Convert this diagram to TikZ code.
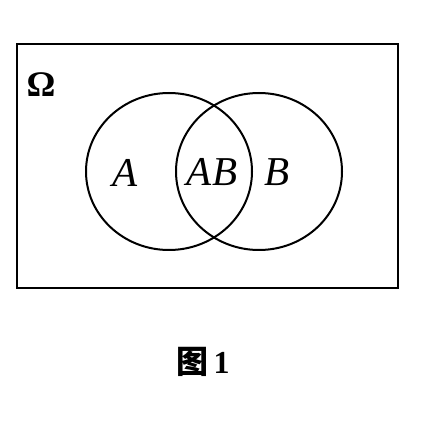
\documentclass[tikz,border=0pt]{standalone}
\usepackage{fontspec}
\setmainfont{Liberation Serif}
\newfontfamily\cjk{Noto Sans CJK SC}
\usetikzlibrary{shapes.geometric}
\begin{document}
\begin{tikzpicture}[x=1pt,y=-1pt,
  lbl/.style={inner sep=0pt,font=\fontsize{41}{41}\selectfont\itshape},
  setline/.style={draw=black,line width=2pt}]
\useasboundingbox (0,0) rectangle (445,430);
\node[setline,rectangle,minimum width=381pt,minimum height=244pt,inner sep=0pt] (omega) at (207.5,166) {};
\node[inner sep=0pt,font=\fontsize{36}{36}\selectfont\bfseries] (om) at (41,85) {Ω};
\node[setline,ellipse,minimum width=166pt,minimum height=157pt,inner sep=0pt] (ca) at (169,171.5) {};
\node[setline,ellipse,minimum width=166pt,minimum height=157pt,inner sep=0pt] (cb) at (259,171.5) {};
\node[lbl] (la) at (125,173) {A};
\node[lbl] (lab) at (212,172) {AB};
\node[lbl] (lb) at (277,172) {B};
\node[inner sep=0pt,font=\fontsize{32}{32}\selectfont\bfseries] (cap) at (203,362) {{\cjk\bfseries 图}\,1};
\end{tikzpicture}
\end{document}
